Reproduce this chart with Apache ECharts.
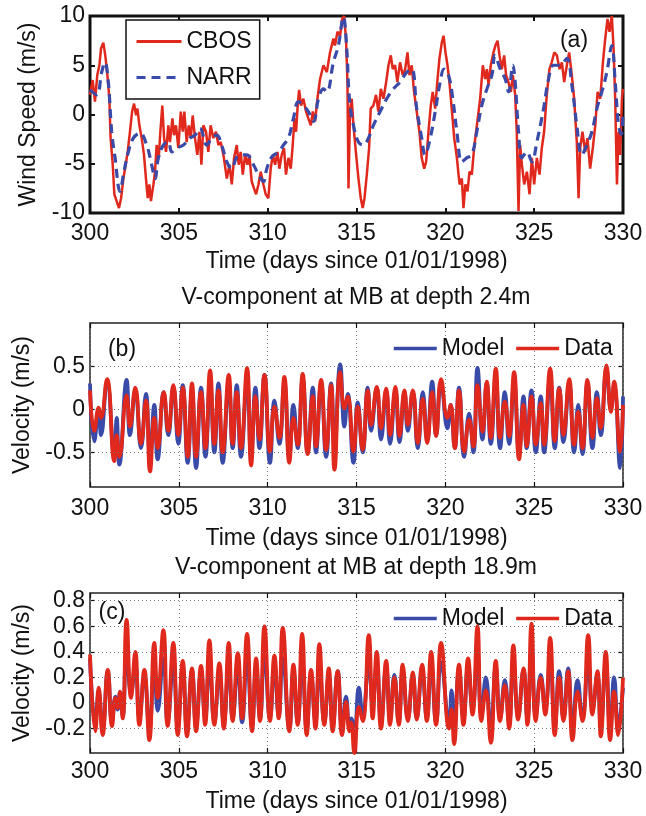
<!DOCTYPE html>
<html>
<head>
<meta charset="utf-8">
<script src="https://cdn.jsdelivr.net/npm/echarts@6/dist/echarts.min.js"></script>
<style>
html,body{margin:0;padding:0;background:#fff;}
#chart{width:646px;height:816px;}
</style>
</head>
<body>
<div id="chart"></div>
<script>
// ---------- Panel (a): wind speed ----------
const aCbosT = [300.0,300.15,300.28,300.41,300.53,300.62,300.75,300.86,300.98,301.09,301.16,301.28,301.37,301.5,301.63,301.75,301.88,302.01,302.12,302.25,302.37,302.48,302.59,302.67,302.78,302.91,303.04,303.15,303.25,303.34,303.43,303.57,303.66,303.75,303.87,303.96,304.07,304.17,304.28,304.41,304.5,304.64,304.73,304.84,304.97,305.11,305.22,305.31,305.44,305.56,305.67,305.78,305.91,306.04,306.16,306.27,306.38,306.53,306.66,306.79,306.94,307.09,307.23,307.36,307.51,307.7,307.85,307.98,308.11,308.26,308.37,308.48,308.6,308.73,308.86,308.97,309.1,309.23,309.35,309.48,309.61,309.76,309.89,310.04,310.17,310.29,310.42,310.55,310.66,310.79,310.92,311.03,311.17,311.3,311.41,311.51,311.6,311.69,311.77,311.88,312.01,312.16,312.29,312.43,312.54,312.67,312.8,312.95,313.14,313.33,313.51,313.7,313.79,313.93,314.08,314.19,314.3,314.41,314.49,314.55,314.64,314.73,314.83,314.98,315.11,315.24,315.35,315.45,315.58,315.71,315.8,315.95,316.1,316.23,316.37,316.52,316.67,316.8,316.93,317.04,317.17,317.3,317.45,317.6,317.74,317.87,317.98,318.11,318.24,318.39,318.54,318.67,318.81,318.92,319.05,319.18,319.29,319.43,319.56,319.67,319.8,319.9,320.01,320.12,320.23,320.36,320.5,320.65,320.8,320.93,321.02,321.13,321.25,321.36,321.49,321.62,321.73,321.87,321.96,322.11,322.24,322.34,322.43,322.56,322.71,322.82,322.94,323.05,323.18,323.31,323.42,323.55,323.69,323.8,323.93,324.02,324.12,324.21,324.31,324.44,324.59,324.74,324.87,325.0,325.15,325.3,325.43,325.56,325.71,325.86,325.99,326.13,326.28,326.43,326.56,326.69,326.84,326.97,327.12,327.25,327.4,327.5,327.59,327.72,327.87,328.0,328.15,328.3,328.44,328.57,328.72,328.87,329.0,329.13,329.24,329.37,329.47,329.56,329.66,329.75,329.84,329.94,330.0];
const aCbosV = [2.0,3.5,1.3,4.0,5.0,6.7,7.3,6.0,4.0,1.6,-2.4,-5.1,-8.1,-8.8,-9.5,-8.5,-6.5,-5.1,-3.8,-1.75,0.3,1.1,-0.07,0.6,-1.1,-2.4,-4.1,-6.5,-8.5,-7.1,-8.8,-7.1,-5.8,-3.1,-4.4,-1.75,0.9,-2.4,-3.8,-1.1,-2.8,-0.4,-2.1,-1.1,-3.4,0.3,-1.75,0.3,-2.8,-1.1,-2.4,-0.1,-2.4,-4.1,-1.75,-5.1,-1.1,-1.75,-3.8,-1.1,-2.4,-1.75,-3.1,-2.8,-4.1,-6.5,-5.1,-7.1,-4.4,-3.1,-5.1,-3.8,-6.1,-4.1,-5.1,-4.1,-6.8,-7.5,-8.1,-7.1,-5.8,-7.1,-8.1,-8.5,-5.5,-4.1,-5.1,-3.8,-5.5,-4.1,-3.4,-6.1,-4.4,-5.5,-3.1,-0.4,-1.75,0.9,2.5,0.9,1.6,0.3,-0.4,-1.1,0.3,-0.7,1.6,3.6,5.0,4.3,6.3,7.7,7.0,8.4,8.0,9.7,10.0,7.7,3.3,-7.5,0.6,1.6,-1.1,-4.1,-6.5,-8.5,-9.5,-8.5,-6.1,-3.4,0.6,0.9,2.0,0.3,2.6,1.6,3.3,5.0,6.0,4.6,5.0,3.3,5.3,4.0,4.6,6.3,4.0,5.0,2.3,0.3,-1.75,-4.4,-5.5,-4.8,-1.75,0.9,2.3,0.6,3.6,5.7,7.3,8.0,6.3,5.0,3.3,0.6,-2.4,-4.4,-7.1,-6.5,-9.5,-7.1,-7.8,-5.8,-6.1,-3.4,-1.75,0.3,1.6,5.0,3.6,4.6,3.0,5.0,6.3,7.0,7.5,6.0,4.6,6.0,4.0,3.3,2.3,4.0,2.0,-1.75,-9.8,-3.1,-5.1,-7.1,-5.8,-8.1,-4.4,-7.1,-4.4,-6.1,-3.4,-1.75,2.0,4.6,5.3,6.3,6.0,4.6,5.3,3.3,5.0,6.3,4.0,1.6,-2.8,-8.5,-3.4,-1.75,-3.8,-2.4,-5.5,-3.4,-1.1,2.3,1.6,5.3,7.7,9.7,8.4,10.0,6.7,1.6,-7.1,-1.75,-4.1,1.6,2.6];

const aNarrT = [300.0,300.38,300.66,300.84,301.03,301.22,301.41,301.69,301.91,302.16,302.44,302.82,303.19,303.47,303.66,303.85,304.13,304.41,304.6,304.88,305.26,305.63,305.91,306.19,306.57,306.85,307.13,307.41,307.7,307.98,308.26,308.54,308.82,309.2,309.48,309.76,309.95,310.23,310.6,310.89,311.17,311.45,311.73,312.01,312.29,312.58,312.86,313.14,313.33,313.7,313.98,314.26,314.45,314.6,314.83,315.11,315.39,315.67,315.95,316.33,316.7,317.08,317.45,317.83,318.11,318.39,318.67,318.86,319.15,319.43,319.71,319.93,320.18,320.42,320.65,320.93,321.21,321.49,321.77,322.05,322.34,322.62,322.8,323.09,323.37,323.56,323.8,323.93,324.12,324.31,324.59,324.87,325.15,325.53,325.81,326.09,326.46,326.84,327.12,327.4,327.68,327.96,328.25,328.53,328.81,329.09,329.37,329.56,329.75,329.9,330.0];
const aNarrV = [2.5,2.0,4.3,5.3,3.3,-1.75,-4.4,-7.8,-5.8,-3.8,-2.4,-1.9,-3.1,-5.1,-6.5,-4.4,-3.1,-2.8,-3.8,-3.4,-3.1,-2.4,-2.1,-1.4,-3.1,-2.4,-2.1,-3.1,-4.8,-5.5,-4.3,-4.1,-4.1,-5.1,-6.1,-6.8,-5.5,-4.3,-3.8,-3.1,-2.4,-0.4,1.3,0.9,0.3,-0.7,1.6,2.6,2.3,5.3,7.0,9.9,6.7,1.6,-1.1,-2.8,-3.1,-2.4,-1.1,0.3,1.6,2.6,3.3,4.3,4.6,0.6,-2.4,-4.1,-2.4,0.3,3.3,4.6,4.0,1.6,-1.75,-4.8,-4.4,-4.1,-1.75,0.9,2.6,4.0,6.0,4.6,3.6,2.3,5.0,3.3,-1.75,-4.4,-3.8,-4.8,-2.8,0.6,3.6,5.0,5.0,5.7,3.0,-1.1,-4.1,-3.1,-1.75,0.6,2.3,4.3,7.0,3.3,-1.1,-2.0,0.0];

const aXTicks = [300,305,310,315,320,325,330];
const aYTicks = [-10,-5,0,5,10];

// ---------- Panel (b): V-component at depth 2.4 m ----------
const bT = [300.0,300.24,300.49,300.62,300.96,301.37,301.5,301.65,302.06,302.25,302.55,302.87,303.15,303.38,303.62,303.81,304.15,304.41,304.69,304.97,305.22,305.5,305.74,305.97,306.25,306.5,306.76,307.0,307.23,307.47,307.81,308.03,308.26,308.5,308.84,309.07,309.31,309.54,309.82,310.13,310.38,310.66,310.94,311.22,311.45,311.69,311.97,312.25,312.54,312.72,313.01,313.29,313.57,313.76,314.08,314.32,314.51,314.83,315.07,315.35,315.63,315.82,316.14,316.38,316.67,316.89,317.19,317.42,317.7,317.89,318.17,318.45,318.73,318.98,319.26,319.48,319.76,320.12,320.3,320.53,320.77,321.06,321.34,321.58,321.81,322.09,322.33,322.56,322.84,323.08,323.35,323.59,323.87,324.15,324.4,324.58,324.85,325.09,325.37,325.56,325.9,326.16,326.41,326.65,326.97,327.25,327.48,327.72,328.0,328.28,328.53,328.75,329.07,329.32,329.5,329.84,330.0];
const bData = [0.22,-0.25,0.02,-0.1,0.35,-0.6,-0.3,-0.55,0.16,-0.2,0.25,-0.4,0.1,-0.72,-0.1,-0.45,0.2,-0.25,0.28,-0.3,0.25,-0.55,0.3,-0.55,0.2,-0.45,0.45,-0.4,0.22,-0.5,0.4,-0.4,0.2,-0.45,0.48,-0.65,0.15,-0.35,0.4,-0.49,0.03,-0.33,0.375,-0.62,-0.1,-0.41,0.41,-0.52,0.15,-0.43,0.34,-0.47,0.28,-0.7,0.43,0.01,0.15,-0.49,0.03,-0.47,0.22,-0.18,0.26,-0.22,0.24,-0.3,0.26,-0.31,0.22,-0.18,0.22,-0.39,0.12,-0.39,0.2,-0.31,0.35,-0.1,0.05,-0.45,0.22,-0.49,-0.12,-0.43,0.28,-0.26,0.32,-0.33,0.47,-0.33,0.09,-0.31,0.43,-0.58,0.05,-0.43,0.15,-0.41,0.07,-0.41,0.47,-0.37,0.24,-0.3,0.35,-0.41,-0.03,-0.45,0.34,-0.33,0.13,-0.22,0.51,-0.03,0.32,-0.49,0.05];
const bModel = [0.3,-0.37,-0.03,-0.3,0.32,-0.55,-0.1,-0.64,0.34,-0.3,0.22,-0.45,0.18,-0.55,0.05,-0.58,0.2,-0.3,0.25,-0.4,0.28,-0.62,0.22,-0.68,0.25,-0.55,0.3,-0.5,0.3,-0.62,0.3,-0.45,0.28,-0.55,0.3,-0.55,0.25,-0.45,0.4,-0.62,0.1,-0.4,0.3,-0.55,0.05,-0.45,0.35,-0.5,0.25,-0.5,0.3,-0.55,0.3,-0.45,0.52,-0.2,0.18,-0.62,0.08,-0.5,0.25,-0.25,0.25,-0.35,0.22,-0.4,0.22,-0.38,0.2,-0.25,0.2,-0.45,0.2,-0.35,0.32,-0.3,0.3,-0.22,0.05,-0.45,0.25,-0.55,-0.05,-0.5,0.48,-0.35,0.3,-0.4,0.35,-0.45,0.2,-0.4,0.3,-0.5,0.15,-0.45,0.22,-0.5,0.15,-0.5,0.35,-0.45,0.25,-0.38,0.3,-0.5,0.05,-0.52,0.3,-0.45,0.2,-0.3,0.45,0.0,0.28,-0.68,0.15];
const bYTicks = [-0.5,0,0.5];

// ---------- Panel (c): V-component at depth 18.9 m ----------
const cT = [300.0,300.3,300.49,300.71,301.0,301.24,301.43,301.56,301.69,301.84,302.06,302.31,302.55,302.78,303.06,303.34,303.62,303.81,304.13,304.37,304.69,304.94,305.22,305.46,305.74,305.97,306.25,306.48,306.72,307.0,307.28,307.53,307.81,308.03,308.32,308.56,308.84,309.12,309.35,309.57,309.82,310.13,310.38,310.62,310.85,311.22,311.45,311.69,311.94,312.2,312.44,312.69,312.91,313.19,313.44,313.66,313.94,314.19,314.41,314.6,314.7,314.88,315.13,315.35,315.69,315.91,316.14,316.38,316.67,316.89,317.13,317.38,317.6,317.89,318.17,318.39,318.69,318.96,319.2,319.48,319.76,320.21,320.35,320.49,320.77,321.02,321.28,321.53,321.81,322.03,322.28,322.56,322.84,323.08,323.35,323.59,323.83,324.1,324.4,324.62,324.85,325.09,325.37,325.62,325.9,326.16,326.41,326.65,326.91,327.16,327.44,327.72,328.04,328.28,328.56,328.75,329.03,329.28,329.5,329.73,330.0];
const cData = [0.38,-0.22,0.12,-0.25,0.26,-0.18,0.04,-0.04,0.09,-0.12,0.65,0.04,0.4,-0.17,0.26,-0.29,0.47,0.04,0.57,-0.18,0.47,-0.25,0.33,-0.26,0.27,-0.22,0.29,-0.17,0.49,-0.17,0.31,-0.2,0.47,-0.14,0.39,-0.12,0.54,-0.22,0.35,-0.14,0.6,-0.14,0.37,-0.12,0.59,-0.22,0.3,-0.17,0.54,-0.25,0.26,-0.2,0.46,-0.17,0.27,-0.22,0.25,-0.25,0.01,-0.22,-0.15,-0.39,-0.03,-0.14,0.53,-0.12,0.4,-0.2,0.33,-0.17,0.2,-0.17,0.3,-0.14,0.24,-0.13,0.3,-0.14,0.4,-0.17,0.47,-0.2,-0.05,-0.32,0.3,-0.17,0.35,-0.09,0.6,-0.14,0.1,-0.31,0.33,-0.14,0.14,-0.2,0.45,-0.13,0.27,-0.17,0.62,-0.14,0.2,-0.09,0.51,-0.25,0.2,-0.14,0.25,-0.29,0.09,-0.14,0.53,-0.09,0.25,-0.26,0.4,-0.29,0.09,-0.25,0.2];
const cModel = [0.35,-0.15,0.08,-0.2,0.25,-0.15,0.05,-0.05,0.08,-0.1,0.4,0.08,0.3,-0.12,0.22,-0.2,0.3,-0.06,0.35,-0.15,0.3,-0.18,0.28,-0.2,0.25,-0.18,0.25,-0.12,0.3,-0.15,0.25,-0.15,0.3,-0.12,0.28,-0.15,0.35,-0.18,0.28,-0.12,0.38,-0.12,0.28,-0.1,0.35,-0.2,0.25,-0.15,0.32,-0.2,0.22,-0.15,0.3,-0.15,0.22,-0.18,0.25,-0.2,0.05,-0.18,-0.12,-0.22,0.12,-0.1,0.3,0.0,0.3,-0.15,0.28,-0.12,0.22,-0.15,0.25,-0.12,0.22,-0.12,0.25,-0.12,0.3,-0.15,0.32,-0.15,0.1,-0.2,0.25,-0.12,0.28,-0.05,0.38,-0.1,0.2,-0.2,0.28,-0.12,0.18,-0.15,0.3,-0.1,0.26,-0.12,0.42,-0.1,0.22,-0.05,0.32,-0.18,0.25,-0.12,0.27,-0.2,0.18,-0.12,0.32,-0.05,0.22,-0.18,0.3,-0.2,0.2,-0.18,0.12];
const cYTicks = [-0.2,0,0.2,0.4,0.6,0.8];

// ---------- build ----------
const pair = (t, v) => t.map((x, i) => [x, v[i]]);
const FONT = 'Liberation Sans, Arial, Helvetica, sans-serif';
const FS = 23;
const INK = '#111';
const RED = '#e0281c';
const BLUE = '#3a4aa8';
const GRIDDOT = '#777';

const grids = [
  {left: 90, top: 16, width: 533, height: 197, show: true, borderColor: INK, borderWidth: 3, backgroundColor: 'transparent'},
  {left: 90, top: 323, width: 533, height: 164, show: true, borderColor: '#222', borderWidth: 1.5, backgroundColor: 'transparent'},
  {left: 90, top: 593, width: 533, height: 160, show: true, borderColor: '#222', borderWidth: 1.5, backgroundColor: 'transparent'}
];

const labelMargins = [9, 10, 7];
const nameGaps = [37, 40, 37];
const xAxes = [];
for (let g = 0; g < 3; g++) {
  const tw = g === 0 ? 2 : 1.2;
  xAxes.push({
    type: 'value', gridIndex: g, min: aXTicks[0], max: aXTicks[aXTicks.length - 1], interval: 5,
    position: 'bottom',
    name: 'Time (days since 01/01/1998)', nameLocation: 'middle', nameGap: nameGaps[g],
    nameTextStyle: {fontSize: FS, color: INK, fontFamily: FONT},
    axisLine: {show: false, onZero: false},
    axisTick: {show: true, inside: true, length: 5, lineStyle: {color: INK, width: tw}},
    axisLabel: {fontSize: FS, color: INK, margin: labelMargins[g], fontFamily: FONT},
    splitLine: {show: g > 0, lineStyle: {color: GRIDDOT, width: 1, type: [1, 3]}}
  });
  xAxes.push({
    type: 'value', gridIndex: g, min: aXTicks[0], max: aXTicks[aXTicks.length - 1], interval: 5,
    position: 'top',
    axisLine: {show: false, onZero: false},
    axisTick: {show: true, inside: true, length: 5, lineStyle: {color: INK, width: tw}},
    axisLabel: {show: false}, splitLine: {show: false}
  });
}

function yPair(g, min, max, ticks, nameStr, gap) {
  const tw = g === 0 ? 2 : 1.2;
  const common = {
    type: 'value', gridIndex: g, min: min, max: max,
    axisLine: {show: false, onZero: false}, splitLine: {show: false}
  };
  const left = Object.assign({}, common, {
    position: 'left',
    name: nameStr, nameLocation: 'middle', nameGap: gap,
    nameTextStyle: {fontSize: FS, color: INK, fontFamily: FONT},
    axisTick: {show: true, inside: true, length: 5, lineStyle: {color: INK, width: tw}, customValues: ticks},
    axisLabel: {fontSize: FS, color: INK, margin: 5, fontFamily: FONT, customValues: ticks,
      formatter: v => (Math.abs(v) < 1e-9 ? '0' : String(+v.toFixed(2)))}
  });
  const right = Object.assign({}, common, {
    position: 'right',
    axisTick: {show: true, inside: true, length: 5, lineStyle: {color: INK, width: tw}, customValues: ticks},
    axisLabel: {show: false}
  });
  return [left, right];
}

const yAxes = [].concat(
  yPair(0, -10, 10, aYTicks, 'Wind Speed (m/s)', 50),
  yPair(1, -0.9, 1.0, bYTicks, 'Velocity (m/s)', 55),
  yPair(2, -0.39, 0.86, cYTicks, 'Velocity (m/s)', 55)
);

function gridLines(g, ticks) {
  return {
    type: 'line', xAxisIndex: g * 2, yAxisIndex: g * 2, data: [], z: 1, silent: true,
    markLine: {
      silent: true, symbol: 'none', animation: false, label: {show: false},
      lineStyle: {color: GRIDDOT, width: 1, type: [1, 3]},
      emphasis: {disabled: true},
      data: ticks.map(v => ({yAxis: v}))
    }
  };
}

const series = [
  {name: 'CBOS', type: 'line', xAxisIndex: 0, yAxisIndex: 0, data: pair(aCbosT, aCbosV),
   symbol: 'none', lineStyle: {color: RED, width: 2.5}, itemStyle: {color: RED}, z: 3},
  {name: 'NARR', type: 'line', xAxisIndex: 0, yAxisIndex: 0, data: pair(aNarrT, aNarrV),
   symbol: 'none', smooth: 0.4, lineStyle: {color: BLUE, width: 3.2, type: [9, 6]}, itemStyle: {color: BLUE}, z: 4},
  gridLines(1, bYTicks),
  {name: 'Model', type: 'line', xAxisIndex: 2, yAxisIndex: 2, data: pair(bT, bModel),
   symbol: 'none', smooth: 0.5, lineStyle: {color: BLUE, width: 3.8}, itemStyle: {color: BLUE}, z: 3},
  {name: 'Data', type: 'line', xAxisIndex: 2, yAxisIndex: 2, data: pair(bT, bData),
   symbol: 'none', smooth: 0.5, lineStyle: {color: RED, width: 3.8}, itemStyle: {color: RED}, z: 4},
  gridLines(2, cYTicks),
  {name: 'Model', type: 'line', xAxisIndex: 4, yAxisIndex: 4, data: pair(cT, cModel),
   symbol: 'none', smooth: 0.5, lineStyle: {color: BLUE, width: 3.8}, itemStyle: {color: BLUE}, z: 3},
  {name: 'Data', type: 'line', xAxisIndex: 4, yAxisIndex: 4, data: pair(cT, cData),
   symbol: 'none', smooth: 0.5, lineStyle: {color: RED, width: 3.8}, itemStyle: {color: RED}, z: 4}
];

const legendText = {fontSize: FS, color: INK, fontFamily: FONT};
const hideSym = {opacity: 0};
const option = {
  animation: false,
  backgroundColor: '#fff',
  textStyle: {fontFamily: FONT},
  grid: grids,
  xAxis: xAxes,
  yAxis: yAxes,
  legend: [
    {data: ['CBOS', 'NARR'], left: 126, top: 20, orient: 'vertical', itemWidth: 45, itemHeight: 22,
     itemGap: 13, padding: [10, 8, 10, 9], borderColor: INK, borderWidth: 1.5, backgroundColor: '#fff',
     textStyle: legendText, selectedMode: false, itemStyle: hideSym, lineStyle: {width: 3}},
    {data: ['Model', 'Data'], left: 392, top: 337, itemWidth: 43, itemHeight: 22, itemGap: 10, padding: 0,
     textStyle: legendText, selectedMode: false, itemStyle: hideSym, lineStyle: {width: 3.5}},
    {data: ['Model', 'Data'], left: 392, top: 607, itemWidth: 43, itemHeight: 22, itemGap: 10, padding: 0,
     textStyle: legendText, selectedMode: false, itemStyle: hideSym, lineStyle: {width: 3.5}}
  ],
  graphic: [
    {type: 'text', x: 356, y: 298, style: {text: 'V-component at MB at depth 2.4m', font: FS + 'px ' + FONT, fill: INK, align: 'center', verticalAlign: 'middle'}},
    {type: 'text', x: 356, y: 568, style: {text: 'V-component at MB at depth 18.9m', font: FS + 'px ' + FONT, fill: INK, align: 'center', verticalAlign: 'middle'}},
    {type: 'text', x: 574, y: 41, z: 10, style: {text: '(a)', font: FS + 'px ' + FONT, fill: INK, align: 'center', verticalAlign: 'middle'}},
    {type: 'text', x: 122, y: 350, z: 10, style: {text: '(b)', font: FS + 'px ' + FONT, fill: INK, align: 'center', verticalAlign: 'middle'}},
    {type: 'text', x: 112, y: 613, z: 10, style: {text: '(c)', font: FS + 'px ' + FONT, fill: INK, align: 'center', verticalAlign: 'middle'}}
  ],
  series: series
};

const chart = echarts.init(document.getElementById('chart'), null, {renderer: 'canvas'});
chart.setOption(option);
</script>
</body>
</html>
